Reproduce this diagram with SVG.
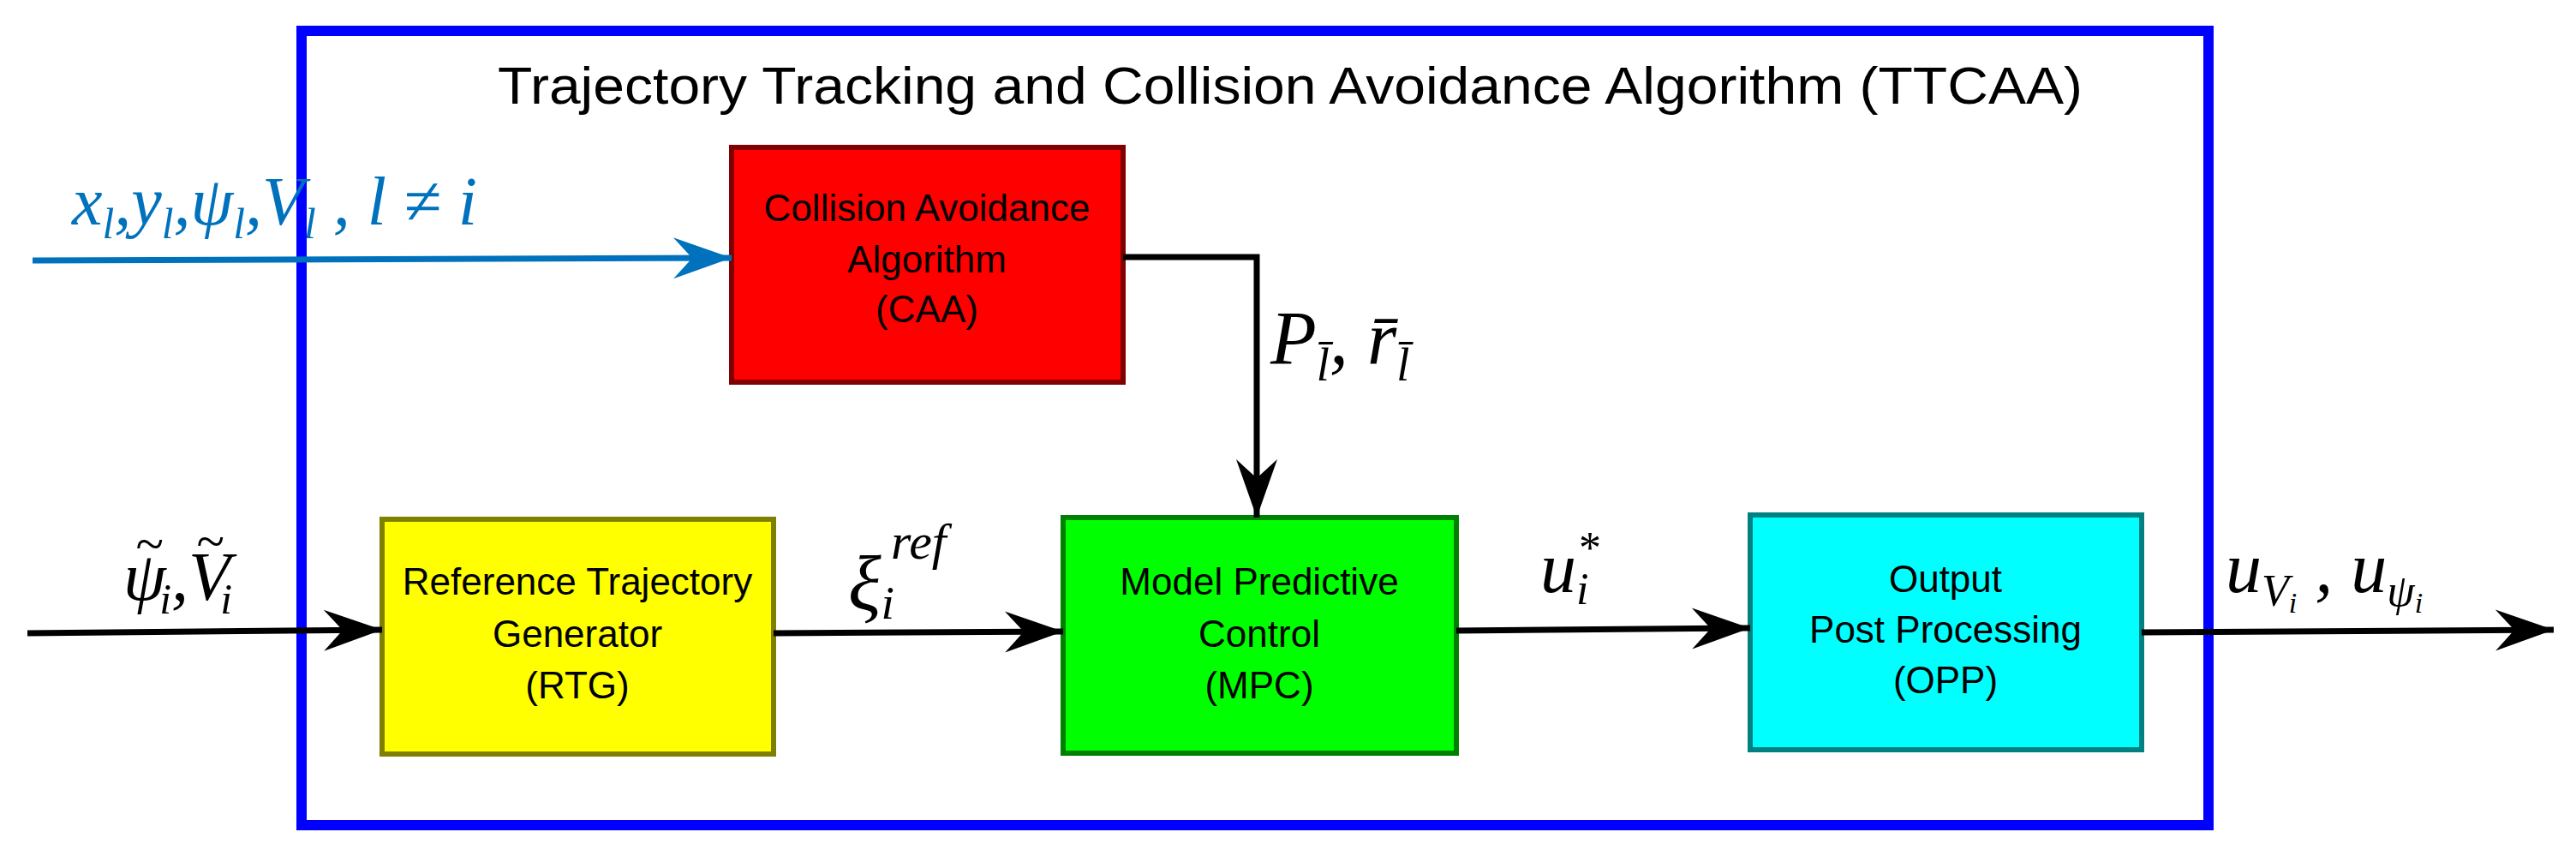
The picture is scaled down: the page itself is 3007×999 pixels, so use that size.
<svg xmlns="http://www.w3.org/2000/svg" width="3007" height="999" viewBox="0 0 3007 999">
<style>
.box{stroke-width:6}
.lbl{font-family:"Liberation Sans",Arial,sans-serif;font-size:44px;text-anchor:middle;fill:#000}
.math{font-family:"Liberation Serif","DejaVu Serif",serif;font-style:italic;fill:#000}
.sub{font-size:0.62em}
.con{fill:none;stroke-width:7}
</style>
<defs>
<marker id="ah" markerUnits="userSpaceOnUse" markerWidth="80" markerHeight="60" viewBox="-70 -30 80 60" refX="0" refY="0" orient="auto">
<path d="M0,0 L-68,-24 L-46,0 L-68,24 Z" fill="#000"/>
</marker>
<marker id="ahb" markerUnits="userSpaceOnUse" markerWidth="80" markerHeight="60" viewBox="-70 -30 80 60" refX="0" refY="0" orient="auto">
<path d="M0,0 L-68,-24 L-46,0 L-68,24 Z" fill="#0072BD"/>
</marker>
</defs>
<rect width="3007" height="999" fill="#fff"/>
<g id="frame">
<rect x="352" y="36" width="2226" height="927" fill="none" stroke="#0000ff" stroke-width="12"/>
<text x="1506" y="121" font-family="Liberation Sans,Arial,sans-serif" font-size="62" text-anchor="middle" textLength="1850" lengthAdjust="spacingAndGlyphs">Trajectory Tracking and Collision Avoidance Algorithm (TTCAA)</text>
</g>
<g id="caa">
<rect class="box" x="854" y="172" width="457" height="274" fill="#ff0000" stroke="#800000"/>
<text class="lbl" x="1082" y="258">Collision Avoidance</text>
<text class="lbl" x="1082" y="318">Algorithm</text>
<text class="lbl" x="1082" y="376">(CAA)</text>
</g>
<g id="rtg">
<rect class="box" x="446" y="606" width="457" height="274" fill="#ffff00" stroke="#808000"/>
<text class="lbl" x="674" y="694">Reference Trajectory</text>
<text class="lbl" x="674" y="755">Generator</text>
<text class="lbl" x="674" y="815">(RTG)</text>
</g>
<g id="mpc">
<rect class="box" x="1241" y="604" width="459" height="275" fill="#00ff00" stroke="#008000"/>
<text class="lbl" x="1470" y="694">Model Predictive</text>
<text class="lbl" x="1470" y="755">Control</text>
<text class="lbl" x="1470" y="815">(MPC)</text>
</g>
<g id="opp">
<rect class="box" x="2043" y="601" width="457" height="274" fill="#00ffff" stroke="#008080"/>
<text class="lbl" x="2271" y="691">Output</text>
<text class="lbl" x="2271" y="750">Post Processing</text>
<text class="lbl" x="2271" y="809">(OPP)</text>
</g>
<g id="connectors">
<path class="con" d="M38,304 L854,301" stroke="#0072BD" marker-end="url(#ahb)"/>
<path class="con" d="M1311,300 L1467,300 L1467,604" stroke="#000" marker-end="url(#ah)"/>
<path class="con" d="M32,739 L446,735" stroke="#000" marker-end="url(#ah)"/>
<path class="con" d="M903,739 L1241,737" stroke="#000" marker-end="url(#ah)"/>
<path class="con" d="M1700,736 L2043,733" stroke="#000" marker-end="url(#ah)"/>
<path class="con" d="M2500,738 L2981,735" stroke="#000" marker-end="url(#ah)"/>
</g>
<g id="labels">
<text class="math" x="84" y="262" font-size="80" style="fill:#0072BD">x<tspan class="sub" dy="16">l</tspan><tspan dy="-16">,y</tspan><tspan class="sub" dy="16">l</tspan><tspan dy="-16">,ψ</tspan><tspan class="sub" dy="16">l</tspan><tspan dy="-16">,V</tspan><tspan class="sub" dy="16">l</tspan><tspan dy="-16"> , l ≠ i</tspan></text>
<text class="math" x="1483" y="424" font-size="88">P<tspan class="sub" dy="20">l̄</tspan><tspan dy="-20">, r̄</tspan><tspan class="sub" dy="20">l̄</tspan></text>
<text class="math" x="144" y="700" font-size="80">ψ<tspan font-size="60" dx="-36" dy="-45">~</tspan><tspan class="sub" dx="-4" dy="61">i</tspan><tspan dy="-16">,V</tspan><tspan font-size="60" dx="-40" dy="-48">~</tspan><tspan class="sub" dx="-4" dy="64">i</tspan></text>
<text class="math" x="990" y="712" font-size="90">ξ<tspan class="sub" dy="10">i</tspan><tspan font-size="60" dx="-4" dy="-70">ref</tspan></text>
<text class="math" x="1798" y="691" font-size="84">u<tspan class="sub" dy="14">i</tspan><tspan class="sub" dx="-14" dy="-48">*</tspan></text>
<text class="math" x="2598" y="691" font-size="84">u<tspan class="sub" dy="16">V</tspan><tspan font-size="34" dy="8">i</tspan><tspan dy="-24"> , u</tspan><tspan class="sub" dy="16">ψ</tspan><tspan font-size="34" dy="8">i</tspan></text>
</g>
</svg>
